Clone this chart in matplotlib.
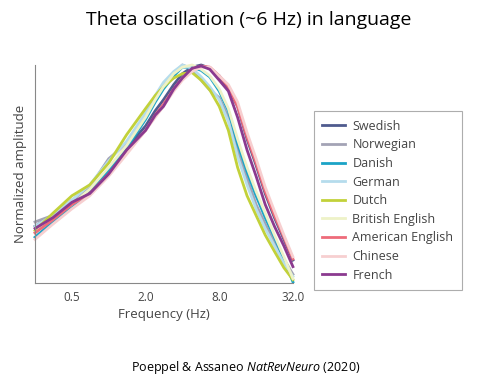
import matplotlib
matplotlib.use("Agg")
import matplotlib.pyplot as plt

plt.rcParams['font.family'] = ['Open Sans', 'DejaVu Sans']
plt.rcParams['mathtext.fontset'] = 'custom'
plt.rcParams['mathtext.rm'] = 'Open Sans'
plt.rcParams['mathtext.it'] = 'Open Sans:italic'

# frequencies (Hz) and normalized amplitude
freqs = [0.25, 0.35, 0.5, 0.7, 1.0, 1.4, 2.0, 2.4, 2.8, 3.4, 4.0, 4.8,
         5.7, 6.7, 8.0, 9.5, 11.3, 13.5, 16.0, 19.0, 22.6, 27.0, 32.0]

swedish   = [0.26, 0.31, 0.37, 0.42, 0.51, 0.62, 0.72, 0.79, 0.84, 0.91, 0.96, 0.99,
             1.00, 0.985, 0.95, 0.89, 0.81, 0.66, 0.54, 0.41, 0.30, 0.20, 0.105]
norwegian = [0.28, 0.31, 0.38, 0.44, 0.57, 0.64, 0.77, 0.85, 0.91, 0.96, 1.00, 0.98,
             0.93, 0.885, 0.85, 0.76, 0.61, 0.48, 0.36, 0.27, 0.19, 0.11, 0.04]
danish    = [0.21, 0.28, 0.35, 0.41, 0.52, 0.62, 0.75, 0.83, 0.89, 0.95, 0.99, 0.99,
             0.975, 0.945, 0.88, 0.79, 0.64, 0.51, 0.40, 0.30, 0.21, 0.11, 0.005]
german    = [0.26, 0.31, 0.38, 0.45, 0.56, 0.65, 0.78, 0.86, 0.92, 0.97, 1.00, 0.985,
             0.945, 0.90, 0.84, 0.74, 0.58, 0.45, 0.34, 0.25, 0.17, 0.09, 0.03]
dutch     = [0.24, 0.32, 0.40, 0.45, 0.55, 0.68, 0.80, 0.86, 0.90, 0.94, 0.96, 0.965,
             0.93, 0.885, 0.81, 0.70, 0.53, 0.40, 0.31, 0.22, 0.145, 0.07, 0.015]
british   = [0.23, 0.30, 0.36, 0.43, 0.53, 0.63, 0.76, 0.84, 0.90, 0.96, 0.99, 1.00,
             0.98, 0.95, 0.89, 0.80, 0.66, 0.53, 0.42, 0.32, 0.22, 0.12, 0.02]
american  = [0.23, 0.29, 0.36, 0.41, 0.50, 0.60, 0.70, 0.77, 0.82, 0.89, 0.94, 0.98,
             0.995, 0.99, 0.95, 0.90, 0.81, 0.67, 0.55, 0.42, 0.31, 0.21, 0.11]
chinese   = [0.20, 0.27, 0.34, 0.40, 0.49, 0.59, 0.70, 0.76, 0.81, 0.88, 0.93, 0.97,
             0.99, 0.99, 0.95, 0.91, 0.83, 0.69, 0.57, 0.44, 0.33, 0.22, 0.12]
french    = [0.25, 0.30, 0.37, 0.41, 0.50, 0.61, 0.70, 0.77, 0.81, 0.89, 0.94, 0.985,
             0.995, 0.98, 0.93, 0.88, 0.76, 0.61, 0.49, 0.36, 0.26, 0.17, 0.075]

languages = ['Swedish', 'Norwegian', 'Danish', 'German', 'Dutch',
             'British English', 'American English', 'Chinese', 'French']
series = [swedish, norwegian, danish, german, dutch, british, american, chinese, french]
colors = ['#4f5b8e', '#a3a3b5', '#1ba3c6', '#b5dcec', '#c2d13a',
          '#eef2c8', '#ee6b7a', '#f7cfd0', '#8b3a8f']

xticks = [0.5, 2.0, 8.0, 32.0]

fig = plt.figure(figsize=(4.81, 3.89), dpi=100)
ax = fig.add_axes([0.0728, 0.2725, 0.5362, 0.5605])

for vals, name, c in zip(series, languages, colors):
    ax.plot(freqs, vals, color=c, lw=2.0, label=name, clip_on=False,
            solid_joinstyle='round')

ax.set_xscale('log', base=2)
ax.set_xlim(0.25, 32)
ax.set_ylim(0, 1)
ax.set_xticks(xticks)
ax.set_xticklabels(['%.1f' % t for t in xticks])
ax.minorticks_off()
ax.set_yticks([])
ax.tick_params(axis='x', length=0, pad=6, labelsize=8.5, labelcolor='#444444')
for s in ['top', 'right']:
    ax.spines[s].set_visible(False)
for s in ['left', 'bottom']:
    ax.spines[s].set_color('#888888')
    ax.spines[s].set_linewidth(0.8)

ax.set_xlabel('Frequency (Hz)', fontsize=9.5, color='#444444', labelpad=3)
ax.set_ylabel('Normalized amplitude', fontsize=9.5, color='#444444', labelpad=6)

leg = fig.legend(loc='upper left', bbox_to_anchor=(0.639, 0.731), fontsize=9,
                 frameon=True, fancybox=False, edgecolor='#999999',
                 handlelength=1.8, labelspacing=0.45, borderpad=0.7,
                 handletextpad=0.6)
leg.get_frame().set_linewidth(0.8)
for t in leg.get_texts():
    t.set_color('#444444')

fig.text(0.517, 0.948, 'Theta oscillation (~6 Hz) in language', ha='center', va='center',
         fontsize=14, color='black')
fig.text(0.51, 0.054, r'Poeppel & Assaneo $\mathit{NatRevNeuro}$ (2020)', ha='center',
         va='center', fontsize=9, color='black')

fig.savefig('out.png', dpi=100)
